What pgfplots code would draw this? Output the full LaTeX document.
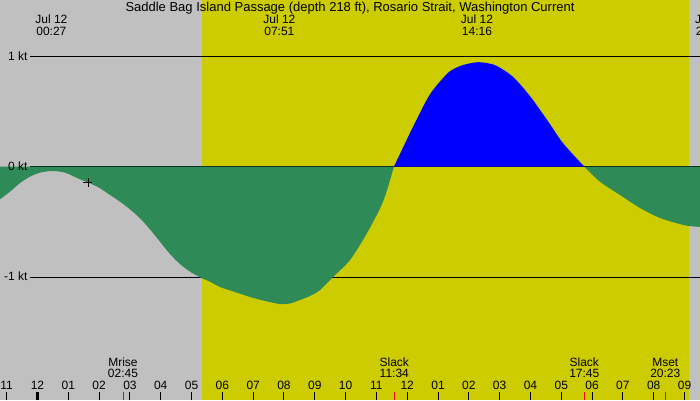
\documentclass[border=0pt]{standalone}
\usepackage{pgfplots}
\pgfplotsset{compat=1.18}
\usepackage{fontspec}
\setmainfont{Liberation Sans}
\definecolor{bggrey}{RGB}{192,192,192}
\definecolor{dayyel}{RGB}{204,204,0}
\definecolor{ebbgreen}{RGB}{46,139,87}
\definecolor{floodblue}{RGB}{0,0,255}
\begin{document}
\begin{tikzpicture}[x=1pt,y=1pt,every node/.style={font=\fontsize{12}{14}\selectfont,inner sep=0pt}]
\fill[bggrey] (0,0) rectangle (700,400);
\fill[dayyel] (201.7,0) rectangle (689.3,400);
\begin{axis}[at={(0,0)},anchor=south west,
  width=700pt,height=400pt,scale only axis,
  xmin=-1.2171,xmax=21.5027,ymin=-2.1113,ymax=1.5086,
  hide axis,clip=true]
% reference lines
\addplot[black,line width=1pt] coordinates {(-0.243,1) (21.6,1)};
\addplot[black,line width=1pt] coordinates {(-0.243,0) (21.6,0)};
\addplot[black,line width=1pt] coordinates {(-0.243,-1) (21.6,-1)};
% ebb (negative) part 1
\addplot[fill=ebbgreen,draw=none,smooth] coordinates {
(-1.30,-0.31) (-1.217,-0.295) (-0.893,-0.226) (-0.568,-0.148)
(-0.243,-0.090) (0.081,-0.054) (0.471,-0.039) (0.893,-0.054) (1.379,-0.114)
(1.704,-0.150) (2.029,-0.195) (2.353,-0.256) (2.678,-0.317) (3.002,-0.386)
(3.327,-0.467) (3.651,-0.567) (3.976,-0.679) (4.300,-0.790) (4.625,-0.881)
(4.950,-0.950) (5.274,-1.001) (5.599,-1.041) (5.923,-1.089) (6.410,-1.134)
(6.897,-1.179) (7.384,-1.215) (7.871,-1.243) (8.195,-1.238) (8.520,-1.206)
(8.844,-1.170) (9.169,-1.116) (9.591,-0.998) (10.143,-0.844) (10.695,-0.600)
(11.214,-0.317) (11.567,0)} -- (axis cs:-1.30,0) -- cycle;
% flood (positive)
\addplot[fill=floodblue,draw=none,smooth] coordinates {
(11.567,0) (11.765,0.115) (12.187,0.36) (12.739,0.655) (13.29,0.84) (13.55,0.89)
(13.81,0.92) (14.24,0.945) (14.6,0.937) (14.91,0.911) (15.43,0.814) (15.98,0.640)
(16.54,0.423) (17.06,0.212) (17.75,0)} -- cycle;
% ebb (negative) part 2
\addplot[fill=ebbgreen,draw=none,smooth] coordinates {
(17.75,0) (18.257,-0.136) (18.906,-0.256) (19.555,-0.374) (20.204,-0.464)
(20.853,-0.519) (21.145,-0.537) (21.503,-0.545) (21.6,-0.547)} -- (axis cs:21.6,0) -- cycle;
% mark
\addplot[only marks,mark=+,mark size=4.5pt,black,line width=0.9pt] coordinates {(1.639,-0.146)};
\end{axis}
% title
\node[anchor=base,font=\fontsize{13}{15}\selectfont] at (350,388.3) {Saddle Bag Island Passage (depth 218 ft), Rosario Strait, Washington Current};
% top event labels
\node[anchor=base] at (51.4,376) {Jul 12};
\node[anchor=base] at (51.4,364.3) {00:27};
\node[anchor=base] at (279.4,376) {Jul 12};
\node[anchor=base] at (279.4,364.3) {07:51};
\node[anchor=base] at (477,376) {Jul 12};
\node[anchor=base] at (477,364.3) {14:16};
\node[anchor=base,overlay] at (711,376) {Jul 12};
\node[anchor=base,overlay] at (711,364.3) {21:52};
% y labels
\node[anchor=base east] at (27.7,339.3) {1 kt};
\node[anchor=base east] at (27.7,229.3) {0 kt};
\node[anchor=base east] at (27.7,119.3) {-1 kt};
% hour ticks and labels
\foreach \t/\lab in {-1/11,0/12,1/01,2/02,3/03,4/04,5/05,6/06,7/07,8/08,9/09,10/10,11/11,12/12,13/01,14/02,15/03,16/04,17/05,18/06,19/07,20/08,21/09}{
  \draw[black,line width=1pt] ({37.5+30.81*\t},0) -- ++(0,8.3);
  \node[anchor=base] at ({37.5+30.81*\t},10.7) {\lab};
}
\draw[black,line width=3pt] (37.5,0) -- ++(0,8.3);
% red event ticks
\foreach \xx in {123,394.3,584.3,665.3}{
  \draw[red,line width=1pt] (\xx,0) -- ++(0,8.3);
}
% bottom event labels
\node[anchor=base] at (123,34) {Mrise};
\node[anchor=base] at (123,22.3) {02:45};
\node[anchor=base] at (394.3,34) {Slack};
\node[anchor=base] at (394.3,22.3) {11:34};
\node[anchor=base] at (584.3,34) {Slack};
\node[anchor=base] at (584.3,22.3) {17:45};
\node[anchor=base] at (665.3,34) {Mset};
\node[anchor=base] at (665.3,22.3) {20:23};
\pgfresetboundingbox
\path[use as bounding box] (0,0) rectangle (700,400);
\end{tikzpicture}
\end{document}
